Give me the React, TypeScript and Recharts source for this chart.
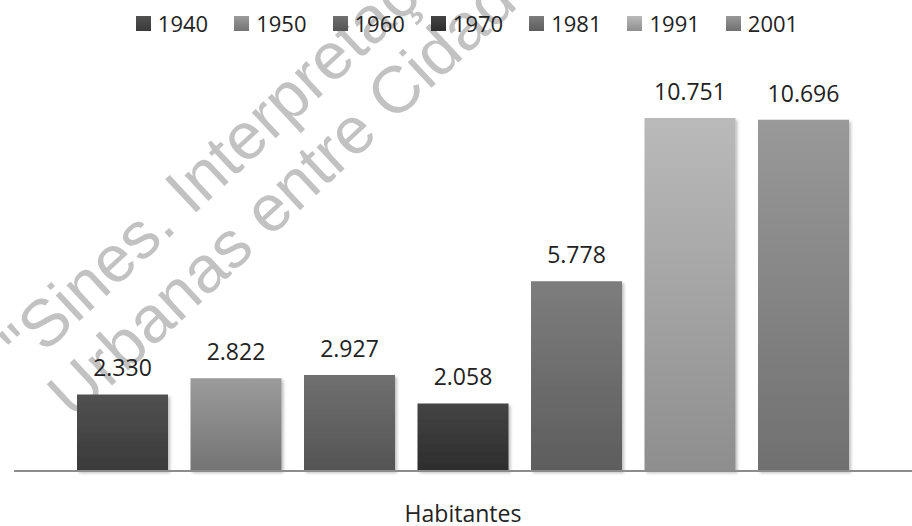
import React from "react";
import { BarChart, Bar, XAxis, YAxis, LabelList, Legend, Rectangle } from "recharts";

const categories = ["Habitantes"];
const years = ["1940", "1950", "1960", "1970", "1981", "1991", "2001"];
const population = [2330, 2822, 2927, 2058, 5778, 10751, 10696];
const topColors = ["#515151", "#9b9b9b", "#707070", "#444444", "#7d7d7d", "#bababa", "#999999"];
const bottomColors = ["#3a3a3a", "#747474", "#545454", "#2d2d2d", "#5d5d5d", "#8e8e8e", "#707070"];
const yDomain = [0, 12000];
const watermarkLines = ["\"Sines. Interpretações", "Urbanas entre Cidade"];

const FONT = "'Open Sans', sans-serif";
const TEXT = "#222222";

// one row per category, one key per census year
const data = categories.map((category) => {
  const row: Record<string, string | number> = { category };
  years.forEach((y, i) => {
    row[y] = population[i];
  });
  return row;
});

// 2330 -> "2.330"
const fmt = (v: number) => String(v).replace(/\B(?=(\d{3})+(?!\d))/g, ".");

const renderLegend = () => (
  <div
    style={{
      display: "flex",
      justifyContent: "center",
      alignItems: "center",
      height: 30,
      paddingLeft: 8,
      fontFamily: FONT,
      fontSize: 22,
      color: TEXT,
    }}
  >
    {years.map((y, i) => (
      <div
        key={y}
        style={{ display: "flex", alignItems: "center", marginRight: i < years.length - 1 ? 26 : 0 }}
      >
        <span
          style={{
            display: "inline-block",
            width: 15,
            height: 15,
            marginRight: 7,
            background: `linear-gradient(${topColors[i]}, ${bottomColors[i]})`,
          }}
        />
        <span style={{ lineHeight: "30px" }}>{y}</span>
      </div>
    ))}
  </div>
);

// diagonal watermark printed over the source figure
const Watermark = () => (
  <svg width={912} height={526} style={{ position: "absolute", left: 0, top: 0 }}>
    <text
      x={27}
      y={370}
      transform="rotate(-43 27 370)"
      fontFamily="'Liberation Sans', Arial, sans-serif"
      fontSize={66}
      fill="#c2c2c2"
    >
      {watermarkLines[0]}
    </text>
    <text
      x={74}
      y={421}
      transform="rotate(-43 74 421)"
      fontFamily="'Liberation Sans', Arial, sans-serif"
      fontSize={66}
      fill="#c2c2c2"
    >
      {watermarkLines[1]}
    </text>
  </svg>
);

export default function App() {
  return (
    <div
      style={{
        position: "fixed",
        left: 0,
        top: 0,
        width: 912,
        height: 526,
        background: "#ffffff",
        overflow: "hidden",
        fontFamily: FONT,
      }}
    >
      <Watermark />
      <div style={{ position: "absolute", left: 0, top: 0 }}>
        <BarChart
          width={912}
          height={526}
          data={data}
          margin={{ top: 47, right: 0, bottom: 0, left: 14 }}
          barGap={22.5}
        >
          <defs>
            {years.map((y, i) => (
              <linearGradient key={y} id={`grad-${y}`} x1="0" y1="0" x2="0" y2="1">
                <stop offset="0%" stopColor={topColors[i]} />
                <stop offset="100%" stopColor={bottomColors[i]} />
              </linearGradient>
            ))}
            <filter id="barShadow" x="-10%" y="-10%" width="125%" height="125%">
              <feDropShadow dx="2" dy="2" stdDeviation="1.5" floodColor="#000" floodOpacity="0.25" />
            </filter>
          </defs>
          <Legend
            verticalAlign="top"
            content={renderLegend}
            wrapperStyle={{ top: 8, height: 30 }}
          />
          <XAxis
            dataKey="category"
            height={55}
            axisLine={{ stroke: "#8c8c8c", strokeWidth: 2 }}
            tickLine={false}
            tickSize={6}
            tickMargin={29}
            tick={{ fontSize: 23, fill: TEXT, fontFamily: FONT }}
          />
          <YAxis hide domain={yDomain} />
          {years.map((y) => (
            <Bar
              key={y}
              dataKey={y}
              fill={`url(#grad-${y})`}
              barSize={91}
              isAnimationActive={false}
              shape={(props: any) => <Rectangle {...props} filter="url(#barShadow)" />}
            >
              <LabelList
                dataKey={y}
                position="top"
                offset={18}
                formatter={(v: any) => fmt(Number(v))}
                style={{ fontSize: 23, fill: TEXT, fontFamily: FONT }}
              />
            </Bar>
          ))}
        </BarChart>
      </div>
    </div>
  );
}
